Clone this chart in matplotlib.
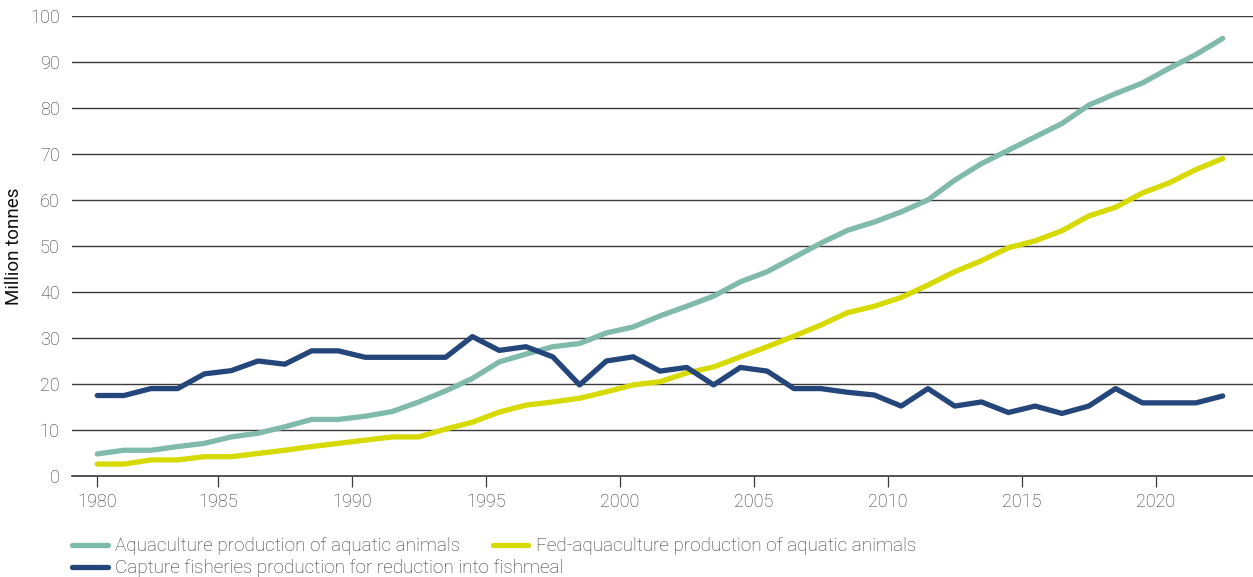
import numpy as np
import matplotlib
matplotlib.use("Agg")
import matplotlib.pyplot as plt

plt.rcParams['font.family'] = ['Roboto', 'DejaVu Sans']
plt.rcParams['font.weight'] = 'light'

years = list(range(1980, 2023))

# Aquaculture production of aquatic animals (million tonnes)
aquaculture = [4.8, 5.6, 5.6, 6.4, 7.1, 8.5, 9.3, 10.7, 12.3, 12.3,
               13.0, 14.0, 16.1, 18.5, 21.2, 24.8, 26.5, 28.1, 28.8, 31.1,
               32.4, 34.8, 36.9, 39.1, 42.2, 44.4, 47.5, 50.6, 53.4, 55.2,
               57.4, 60.0, 64.3, 67.9, 70.8, 73.7, 76.6, 80.6, 83.1, 85.4,
               88.6, 91.6, 95.1]

# Fed-aquaculture production of aquatic animals
fed_aquaculture = [2.6, 2.6, 3.5, 3.5, 4.2, 4.2, 4.9, 5.6, 6.4, 7.1,
                   7.8, 8.5, 8.5, 10.2, 11.7, 13.9, 15.4, 16.1, 16.9, 18.3,
                   19.8, 20.5, 22.4, 23.7, 25.9, 28.1, 30.4, 32.8, 35.5, 36.9,
                   38.8, 41.5, 44.4, 46.8, 49.6, 51.1, 53.3, 56.5, 58.4, 61.5,
                   63.7, 66.6, 69.0]

# Capture fisheries production for reduction into fishmeal
capture_fishmeal = [17.5, 17.5, 19.0, 19.0, 22.2, 22.9, 25.0, 24.3, 27.2, 27.2,
                    25.8, 25.8, 25.8, 25.8, 30.3, 27.3, 28.1, 25.9, 19.8, 25.0,
                    25.9, 22.8, 23.6, 19.8, 23.6, 22.8, 19.0, 19.0, 18.2, 17.6,
                    15.2, 19.0, 15.2, 16.1, 13.8, 15.2, 13.6, 15.2, 19.0, 15.9,
                    15.9, 15.9, 17.4]

tick_labels = ['1980', '1985', '1990', '1995', '2000', '2005', '2010', '2015', '2020']
# the source chart puts every tick but the first half a year before the label year
tick_pos = [1980] + [int(t) - 0.5 for t in tick_labels[1:]]

teal = '#7fbaab'
yellow = '#d7da00'
navy = '#24467a'
text_col = '#333333'

fig = plt.figure(figsize=(12.53, 5.77), dpi=100)
ax = fig.add_axes([0.0575, 0.175, 0.9425, 0.7975])

l1, = ax.plot(years, aquaculture, color=teal, lw=3.8, solid_capstyle='round',
              solid_joinstyle='round', label='Aquaculture production of aquatic animals', zorder=3)
l2, = ax.plot(years, fed_aquaculture, color=yellow, lw=3.8, solid_capstyle='round',
              solid_joinstyle='round', label='Fed-aquaculture production of aquatic animals', zorder=3)
l3, = ax.plot(years, capture_fishmeal, color=navy, lw=3.8, solid_capstyle='round',
              solid_joinstyle='round', label='Capture fisheries production for reduction into fishmeal', zorder=4)

ax.set_xlim(1979.06, 2023.13)
ax.set_ylim(0, 100)
ax.set_yticks(np.arange(0, 101, 10))
ax.set_xticks(tick_pos)
ax.set_xticklabels(tick_labels)

ax.grid(axis='y', color='#3a3a3a', lw=1.0)
ax.set_axisbelow(True)
for side in ['top', 'right', 'left']:
    ax.spines[side].set_visible(False)
ax.spines['bottom'].set_color('#3a3a3a')
ax.spines['bottom'].set_linewidth(1.2)

ax.tick_params(axis='y', length=0, pad=9, labelsize=13, labelcolor=text_col)
ax.tick_params(axis='x', length=8, width=0.9, color='#3a3a3a', pad=4,
               labelsize=13, labelcolor=text_col)

ax.set_ylabel('Million tonnes', fontsize=13.5, color='#111111', labelpad=5,
              fontweight='normal')

# legend: first row holds two entries side by side, the second row one entry
leg_kw = dict(loc='upper left', frameon=False, fontsize=13.6, handlelength=1.9,
              handletextpad=0.4, columnspacing=1.7, borderaxespad=0, borderpad=0)
leg1 = fig.legend(handles=[l1, l2], ncol=2, bbox_to_anchor=(0.0575, 0.069), **leg_kw)
leg2 = fig.legend(handles=[l3], ncol=1, bbox_to_anchor=(0.0575, 0.031), **leg_kw)
for leg in (leg1, leg2):
    for t in leg.get_texts():
        t.set_color(text_col)

fig.savefig('out.png', dpi=100)
